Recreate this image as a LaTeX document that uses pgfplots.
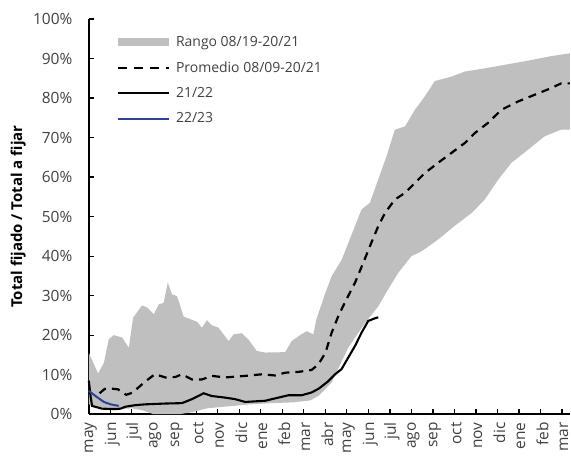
\documentclass[border=0pt]{standalone}
\usepackage{pgfplots}
\pgfplotsset{compat=1.18}
\usepgfplotslibrary{fillbetween}
\usepackage{fontspec}
\setmainfont{Open Sans}
\definecolor{bandgray}{RGB}{191,191,191}
\definecolor{blueline}{RGB}{47,64,152}
\definecolor{txtgray}{RGB}{64,64,64}
\pgfplotsset{
  linelegend/.style={legend image code/.code={\draw[##1] (0pt,0pt) -- (51pt,0pt); \path (55pt,0pt);}},
  arealegend/.style={legend image code/.code={\fill[##1] (0pt,-4pt) rectangle (51pt,4pt); \path (55pt,0pt);}},
}
\begin{document}
\begin{tikzpicture}
\begin{axis}[
  scale only axis,
  width=482pt, height=396pt,
  xmin=0, xmax=22.37,
  ymin=0, ymax=100,
  axis x line*=bottom, axis y line*=left,
  axis line style={line width=1.5pt, black},
  xtick={0,1,...,22},
  xticklabels={may,jun,jul,ago,sep,oct,nov,dic,ene,feb,mar,abr,may,jun,jul,ago,sep,oct,nov,dic,ene,feb,mar},
  xticklabel style={rotate=90, anchor=east, font=\fontsize{15.5}{18}\selectfont, text=txtgray, inner sep=1pt, xshift=-7pt, yshift=-2pt},
  ytick={0,10,...,100},
  yticklabels={0\%,10\%,20\%,30\%,40\%,50\%,60\%,70\%,80\%,90\%,100\%},
  yticklabel style={font=\fontsize{15.5}{18}\selectfont, text=txtgray, xshift=-13pt},
  tick align=inside,
  major tick length=5pt,
  tick style={line width=1.2pt, black},
  ylabel={\textbf{Total fijado / Total a fijar}},
  ylabel style={font=\fontsize{15}{18}\selectfont, at={(axis description cs:-0.147,0.5)}, anchor=center},
  clip=false,
  legend style={draw=none, fill=none, at={(axis description cs:0.058,0.962)}, anchor=north west,
    font=\fontsize{14}{16}\selectfont, text=txtgray, row sep=9.8pt, inner sep=0pt},
  legend cell align=left,
]
\addplot[name path=upper, draw=none, forget plot] coordinates {
(0,15.5) (0.43,10.3) (0.70,13) (0.93,19) (1.16,20) (1.55,19.4) (1.86,16.8) (2.06,24.4)
(2.47,27.5) (2.71,27) (3.02,25.3) (3.25,27.8) (3.48,28.2) (3.67,33.3) (3.87,30.3) (4.10,29.9)
(4.41,24.7) (5.03,23.4) (5.26,21.9) (5.49,23.8) (5.72,22.5) (6.03,21.9) (6.50,18.5) (6.73,20.2)
(7.11,20.5) (7.42,18.9) (7.81,16) (8.20,15.6) (9.13,15.7) (9.43,18.5) (9.82,20) (10.13,21)
(10.44,20.2) (10.58,24) (11.0,30.7) (11.29,34.9) (11.75,39) (12.68,51.8) (13.07,53.5) (13.84,65.2)
(14.23,72) (14.70,72.8) (15.16,77) (15.62,80.4) (16.09,84.3) (16.86,85.4) (17.48,86.7) (18.41,87.5)
(19.34,88.4) (20.57,89.6) (21.50,90.6) (22.37,91.3)
};
\addplot[name path=lower, draw=none, forget plot] coordinates {
(0,2.5) (0.5,1.8) (1,1.5) (1.5,1.3) (2,1.5) (2.5,1) (3,0) (3.3,0) (4.2,0) (4.8,0.5)
(5.5,1.5) (6.5,2) (7.5,2.5) (8.5,2.8) (9.5,3) (10.3,3.5) (10.67,4.6) (11.29,8) (12.06,16.8)
(12.83,23) (13.46,27.3) (13.92,31.6) (14.39,35.8) (15.0,40) (15.47,41.2) (16.24,44.2) (17.0,47.6)
(17.8,50.9) (18.41,54.3) (19.03,59.3) (19.65,63.6) (20.42,66.9) (21.19,70.3) (21.96,72) (22.37,72)
};
\addplot[bandgray, forget plot] fill between[of=upper and lower];
% Promedio
\addplot[black, line width=2.2pt, dash pattern=on 8pt off 6pt, forget plot] coordinates {
(0.5,5.3) (0.74,6.4) (1.0,6.5) (1.35,6.3) (1.74,4.9) (2.06,5.5) (2.29,6.7) (2.66,8.4) (2.97,9.7)
(3.09,10.1) (3.56,9.3) (4.02,9.4) (4.33,10.1) (4.79,8.8) (5.26,8.8) (5.72,9.7) (6.34,9.3) (6.81,9.5)
(7.27,9.7) (8.05,10.1) (8.66,9.8) (9.13,10.5) (9.74,10.7) (10.36,11.2) (10.67,12.6) (11.0,15.5)
(11.29,20.6) (11.6,24.8) (11.9,28.2) (12.38,33.3) (12.76,38.3) (13.07,42.5) (13.46,47.6) (13.77,50.9)
(14.23,54.3) (14.70,56) (15.16,58.5) (15.62,61) (16.24,63.6) (16.86,66.1) (17.48,68.6) (17.94,71.1)
(18.56,73.7) (19.18,77) (19.95,79.1) (20.72,80.8) (21.50,82.5) (21.96,83.7) (22.37,83.7)
};
% 21/22
\addplot[black, line width=2.1pt, forget plot] coordinates {
(0,8.5) (0.08,4.6) (0.15,2.1) (0.62,1.4) (1.24,1.3) (1.47,1.4) (1.70,1.9) (2.17,2.3) (2.63,2.5)
(3.56,2.7) (4.33,2.8) (4.79,3.8) (5.34,5.3) (5.72,4.6) (6.34,4.2) (6.81,3.8) (7.27,3.1) (8.2,3.4)
(8.66,4) (9.28,4.8) (9.9,4.8) (10.36,5.5) (10.7,6.5) (11.1,8.2) (11.45,10.1) (11.75,11.4) (12.06,14.3)
(12.38,17.3) (12.68,20.6) (12.99,23.6) (13.37,24.4) (13.46,24.5)
};
% 22/23
\addplot[blueline, line width=2pt, forget plot] coordinates {
(0,5.9) (0.31,4.6) (0.70,3.1) (1.01,2.5) (1.39,2.1)
};
\addlegendimage{arealegend, fill=bandgray, draw=none}
\addlegendentry{Rango 08/19-20/21}
\addlegendimage{linelegend, black, line width=2.2pt, dash pattern=on 9pt off 7pt}
\addlegendentry{Promedio 08/09-20/21}
\addlegendimage{linelegend, black, line width=2.1pt}
\addlegendentry{21/22}
\addlegendimage{linelegend, blueline, line width=2pt}
\addlegendentry{22/23}
\end{axis}
\path (current axis.south west) ++(-89pt,-41pt);
\path (current axis.north east) ++(0pt,19pt);
\end{tikzpicture}
\end{document}
